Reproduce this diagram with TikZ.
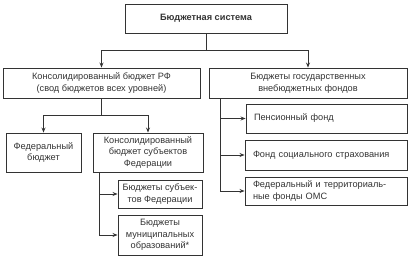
\documentclass[tikz,border=0pt]{standalone}
\usepackage{fontspec}
\setmainfont{Liberation Sans}
\usetikzlibrary{arrows.meta,calc}
\definecolor{ink}{HTML}{333333}
\tikzset{
  box/.style={draw=ink, line width=0.9pt, rectangle, text=ink, inner sep=0pt,
    font=\fontsize{9.2}{11.6}\selectfont, align=center},
  lbox/.style={box, align=left, inner xsep=8pt},
  arr/.style={draw=ink, line width=0.9pt, -{Stealth[length=5pt,width=4pt]}},
  ln/.style={draw=ink, line width=0.9pt}
}
\begin{document}
\begin{tikzpicture}[x=1pt,y=-1pt]
\useasboundingbox (0,0) rectangle (416,259);
\node[box, minimum width=162pt, minimum height=29pt, font=\fontsize{9.2}{11.6}\selectfont\bfseries] (top) at (206,18.5) {Бюджетная система};
\node[box, minimum width=197pt, minimum height=30pt] (kons) at (101.5,83) {Консолидированный бюджет РФ\\(свод бюджетов всех уровней)};
\node[box, minimum width=198pt, minimum height=30pt] (fonds) at (308,83) {Бюджеты государственных\\внебюджетных фондов};
\node[box, minimum width=75pt, minimum height=39pt] (fed) at (43.5,152.5) {Федеральный\\бюджет};
\node[box, minimum width=110pt, minimum height=39pt] (ksub) at (148,152.5) {Консолидированный\\бюджет субъектов\\Федерации};
\node[box, minimum width=84pt, minimum height=28pt] (subj) at (160,194) {Бюджеты субъек-\\тов Федерации};
\node[box, minimum width=84pt, minimum height=40pt] (mun) at (160,235) {Бюджеты\\муниципальных\\образований*};
\node[lbox, text width=145pt, minimum height=29pt] (pens) at (326.5,118.5) {Пенсионный фонд};
\node[lbox, text width=146pt, minimum height=30pt] (soc) at (326,155) {Фонд социального страхования};
\node[lbox, text width=146pt, minimum height=28pt] (oms) at (326,191) {Федеральный и территориаль-\\ные фонды ОМС};

\coordinate (j1) at (206,50);
\draw[ln] (top.south) -- (j1);
\draw[arr] (j1) -| (kons.north);
\draw[arr] (j1) -| (fonds.north);

\coordinate (j2) at (101.5,115);
\draw[ln] (kons.south) -- (j2);
\draw[arr] (j2) -| (fed.north);
\draw[arr] (j2) -| (ksub.north);

\coordinate (j3) at ($(ksub.south west)+(7,0)$);
\draw[arr] (j3) |- (subj.west);
\draw[arr] (j3) |- (mun.west);

\coordinate (j4) at ($(fonds.south west)+(12,0)$);
\draw[arr] (j4) |- (pens.west);
\draw[arr] (j4) |- (soc.west);
\draw[arr] (j4) |- (oms.west);
\end{tikzpicture}
\end{document}
